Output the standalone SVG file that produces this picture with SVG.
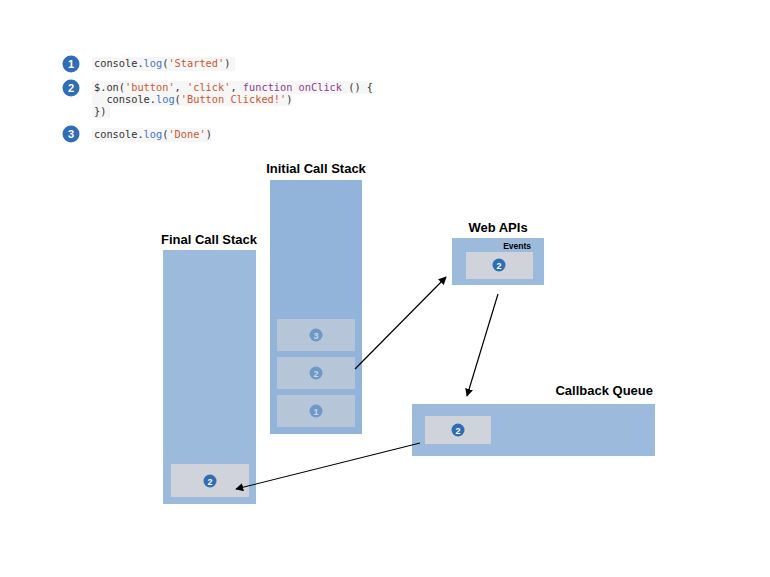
<svg xmlns="http://www.w3.org/2000/svg" width="770" height="577" viewBox="0 0 770 577">
<defs>
<style>
.code{font-family:"DejaVu Sans Mono","Liberation Mono",monospace;font-size:10.3px;fill:#333;white-space:pre}
.kw{fill:#3f78bf}.str{fill:#c65a32}.fn{fill:#8b3d8b}
.num{font-family:"Liberation Sans",Arial,sans-serif;font-weight:bold;font-size:11px;fill:#fff;text-anchor:middle}
.numm{font-family:"Liberation Sans",Arial,sans-serif;font-weight:bold;font-size:9px;fill:#c9d8ea;text-anchor:middle}
.numw{font-family:"Liberation Sans",Arial,sans-serif;font-weight:bold;font-size:9px;fill:#fff;text-anchor:middle}
.title{font-family:"Liberation Sans",Arial,sans-serif;font-weight:bold;font-size:13px;fill:#000;text-anchor:middle}
.outer{fill:#9bbadc}
.outerd{fill:#92b4da}
.inner{fill:#b6c6d8}
.innerg{fill:#d0d4da}
.dot{fill:#2f6db5}
.dotm{fill:#6d98c8}
.conn{stroke:#000;stroke-width:1.2;fill:none;marker-end:url(#ah)}
.hl{fill:#f6f6f6}
</style>
<marker id="ah" viewBox="0 0 10 10" refX="9" refY="5" markerWidth="8" markerHeight="8" orient="auto" markerUnits="userSpaceOnUse">
<path d="M0,0 L10,5 L0,10 z" fill="#000"/>
</marker>
</defs>
<rect width="770" height="577" fill="#fff"/>

<g id="code">
<rect class="hl" x="92" y="57" width="143" height="14"/>
<rect class="hl" x="92" y="81" width="280" height="13"/>
<rect class="hl" x="92" y="94" width="200" height="12"/>
<rect class="hl" x="92" y="106" width="18" height="12"/>
<rect class="hl" x="92" y="128" width="119" height="14"/>
<circle class="dot" cx="71" cy="64" r="8.5"/><text class="num" x="71" y="68">1</text>
<circle class="dot" cx="71" cy="88" r="8.5"/><text class="num" x="71" y="92">2</text>
<circle class="dot" cx="71" cy="134" r="8.5"/><text class="num" x="71" y="138">3</text>
<text class="code" x="94" y="67">console.<tspan class="kw">log</tspan>(<tspan class="str">'Started'</tspan>)</text>
<text class="code" x="94" y="91">$.on(<tspan class="str">'button'</tspan>, <tspan class="str">'click'</tspan>, <tspan class="fn">function onClick</tspan> () {</text>
<text class="code" x="106.4" y="103">console.<tspan class="kw">log</tspan>(<tspan class="str">'Button Clicked!'</tspan>)</text>
<text class="code" x="94" y="115">})</text>
<text class="code" x="94" y="138">console.<tspan class="kw">log</tspan>(<tspan class="str">'Done'</tspan>)</text>
</g>

<g id="initial-stack">
<text class="title" x="316" y="173">Initial Call Stack</text>
<rect class="outerd" x="270" y="180" width="92" height="254"/>
<rect class="inner" x="277" y="319" width="78" height="32"/>
<circle class="dotm" cx="316" cy="335" r="6.5"/><text class="numm" x="316" y="338.5">3</text>
<rect class="inner" x="277" y="357" width="78" height="32"/>
<circle class="dotm" cx="316" cy="373" r="6.5"/><text class="numm" x="316" y="376.5">2</text>
<rect class="inner" x="277" y="395" width="78" height="32"/>
<circle class="dotm" cx="316" cy="411" r="6.5"/><text class="numm" x="316" y="414.5">1</text>
</g>

<g id="final-stack">
<text class="title" x="209" y="244">Final Call Stack</text>
<rect class="outer" x="163" y="250" width="93" height="254"/>
<rect class="innerg" x="171" y="464" width="78" height="33"/>
<circle class="dot" cx="210" cy="481" r="6.5"/><text class="numw" x="210" y="484.5">2</text>
</g>

<g id="web-apis">
<text class="title" x="498" y="232">Web APIs</text>
<rect class="outer" x="452" y="238" width="92" height="47"/>
<text x="531" y="249" font-family="Liberation Sans,Arial,sans-serif" font-weight="bold" font-size="8.5" text-anchor="end" fill="#000">Events</text>
<rect class="innerg" x="466" y="252" width="67" height="27"/>
<circle class="dot" cx="499" cy="265" r="6.5"/><text class="numw" x="499" y="268.5">2</text>
</g>

<g id="callback-queue">
<text class="title" x="653" y="395" style="text-anchor:end">Callback Queue</text>
<rect class="outer" x="412" y="404" width="243" height="52"/>
<rect class="innerg" x="425" y="416" width="66" height="28"/>
<circle class="dot" cx="458" cy="430" r="6.5"/><text class="numw" x="458" y="433.5">2</text>
</g>

<g id="connectors">
<line class="conn" x1="355" y1="369" x2="446" y2="277"/>
<line class="conn" x1="498" y1="294" x2="467" y2="396"/>
<line class="conn" x1="420" y1="443" x2="236" y2="489"/>
</g>
</svg>
